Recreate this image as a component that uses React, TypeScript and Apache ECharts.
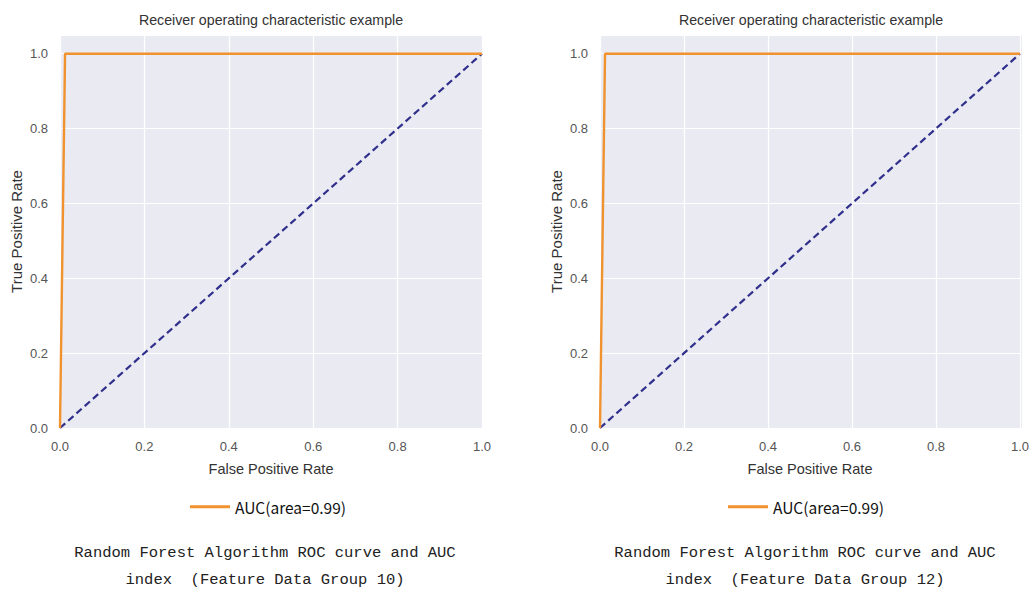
import React, { useEffect, useRef } from "react";
import * as echarts from "echarts";

const rocFprGroup10 = [0, 0.012, 1];
const rocTprGroup10 = [0, 1, 1];
const rocFprGroup12 = [0, 0.012, 1];
const rocTprGroup12 = [0, 1, 1];
const chanceLine = [0, 1];
const tickLabels = ["0.0", "0.2", "0.4", "0.6", "0.8", "1.0"];
const aucLabel = "AUC(area=0.99)";
const plotTitle = "Receiver operating characteristic example";
const captions = [
  ["Random Forest Algorithm ROC curve and AUC", "index  (Feature Data Group 10)"],
  ["Random Forest Algorithm ROC curve and AUC", "index  (Feature Data Group 12)"],
];

const ORANGE = "#f0922e";
const NAVY = "#2f2f8c";
const BG = "#eaeaf2";
const TICK = "#555555";

export default function App() {
  const ref = useRef<HTMLDivElement>(null);
  useEffect(() => {
    if (!ref.current) return;
    const chart = echarts.init(ref.current, undefined, { renderer: "svg" });
    const grids = [
      { left: 60, top: 35, width: 422, height: 393 },
      { left: 600, top: 35, width: 422, height: 393 },
    ];
    const fmt = (v: number) => v.toFixed(1);
    const xAxes = grids.map((_, i) => ({
      type: "value",
      gridIndex: i,
      min: 0,
      max: 1,
      interval: 0.2,
      name: "False Positive Rate",
      nameLocation: "middle",
      nameGap: 33,
      nameTextStyle: { color: "#333", fontSize: 14.5, fontFamily: "Liberation Sans" },
      axisLine: { show: false },
      axisTick: { show: false },
      axisLabel: {
        color: TICK,
        fontSize: 13,
        fontFamily: "Liberation Sans",
        margin: 12,
        formatter: (v: number) => tickLabels[Math.round(v * 5)] ?? fmt(v),
      },
      splitLine: { show: true, lineStyle: { color: "#ffffff", width: 1.2 } },
    }));
    const yAxes = grids.map((_, i) => ({
      type: "value",
      gridIndex: i,
      min: 0,
      max: 1.05,
      interval: 0.2,
      name: "True Positive Rate",
      nameLocation: "middle",
      nameGap: 36,
      nameTextStyle: { color: "#333", fontSize: 15, fontFamily: "Liberation Sans" },
      axisLine: { show: false },
      axisTick: { show: false },
      axisLabel: {
        color: TICK,
        fontSize: 13,
        fontFamily: "Liberation Sans",
        margin: 12,
        showMaxLabel: false,
        formatter: (v: number) => (v > 1.001 ? "" : tickLabels[Math.round(v * 5)] ?? fmt(v)),
      },
      splitLine: { show: true, lineStyle: { color: "#ffffff", width: 1.2 } },
    }));
    const rocSets = [
      [rocFprGroup10, rocTprGroup10],
      [rocFprGroup12, rocTprGroup12],
    ];
    const series: any[] = [];
    rocSets.forEach(([fpr, tpr], i) => {
      series.push({
        type: "line",
        name: aucLabel,
        xAxisIndex: i,
        yAxisIndex: i,
        data: fpr.map((x, k) => [x, tpr[k]]),
        symbol: "none",
        lineStyle: { color: ORANGE, width: 2.4 },
        itemStyle: { color: ORANGE },
        z: 3,
      });
      series.push({
        type: "line",
        name: "chance",
        xAxisIndex: i,
        yAxisIndex: i,
        data: chanceLine.map((v) => [v, v]),
        symbol: "none",
        lineStyle: { color: NAVY, width: 2.2, type: [7, 4] },
        itemStyle: { color: NAVY },
        z: 2,
      });
    });
    const centers = [271, 811];
    const graphic: any[] = [];
    grids.forEach((g, i) => {
      graphic.push({
        type: "rect",
        shape: { x: g.left, y: g.top, width: g.width, height: g.height },
        style: { fill: BG },
        z: -10,
        silent: true,
      });
      graphic.push({
        type: "text",
        x: centers[i],
        y: 20,
        style: {
          text: plotTitle,
          fill: "#333",
          fontSize: 14.2,
          fontFamily: "Liberation Sans",
          textAlign: "center",
          textVerticalAlign: "middle",
        },
      });
      captions[i].forEach((line, k) => {
        graphic.push({
          type: "text",
          x: centers[i] - 6,
          y: 553 + k * 27,
          style: {
            text: line,
            fill: "#222",
            fontSize: 15.5,
            fontFamily: "Liberation Mono",
            textAlign: "center",
            textVerticalAlign: "middle",
          },
        });
      });
    });
    const legendBase = {
      data: [aucLabel],
      top: 494,
      icon: "rect",
      itemWidth: 40,
      itemHeight: 3,
      itemGap: 8,
      textStyle: { color: "#111", fontSize: 15.5, fontFamily: "Noto Sans CJK SC" },
      selectedMode: false,
    };
    chart.setOption({
      animation: false,
      backgroundColor: "#ffffff",
      grid: grids,
      xAxis: xAxes,
      yAxis: yAxes,
      series,
      legend: [
        { ...legendBase, left: 185 },
        { ...legendBase, left: 723 },
      ],
      graphic,
    });
    return () => chart.dispose();
  }, []);
  return (
    <div
      ref={ref}
      style={{ position: "fixed", left: 0, top: 0, width: 1032, height: 595 }}
    />
  );
}
